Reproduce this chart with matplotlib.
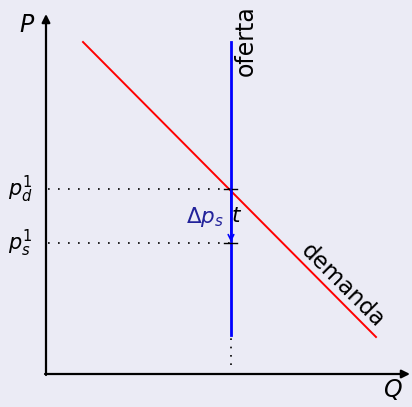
import matplotlib.pyplot as plt

plt.rcParams["mathtext.fontset"] = "dejavusans"

# coordinates in chart units (origin at axes corner)
demand_q = [37, 330]
demand_p = [332, 37]
supply_q = 185
supply_p = [39, 332]
supply_dotted_p = [9, 39]
p_d = 185
p_s = 131
q_max = 364
p_max = 360

bg = "#EBEBF5"
fig = plt.figure(figsize=(4.12, 4.07), dpi=100, facecolor=bg)
ax = fig.add_axes([0, 0, 1, 1])
ax.set_facecolor(bg)
ax.set_xlim(-46, 366)
ax.set_ylim(-33, 374)
ax.axis("off")

# axes arrows
ax.annotate("", xy=(q_max, 0), xytext=(-1, 0),
            arrowprops=dict(arrowstyle="-|>", color="black", lw=1.6,
                            mutation_scale=12, shrinkA=0, shrinkB=0))
ax.annotate("", xy=(0, p_max), xytext=(0, -1),
            arrowprops=dict(arrowstyle="-|>", color="black", lw=1.6,
                            mutation_scale=12, shrinkA=0, shrinkB=0))
ax.text(-19, p_max - 11, "$P$", fontsize=17, ha="center", va="center")
ax.text(347, -16, "$Q$", fontsize=17, ha="center", va="center")

# demand
ax.plot(demand_q, demand_p, color="red", lw=1.4)
ax.text(297, 88, "demanda", fontsize=16.5, rotation=-45, rotation_mode="anchor",
        ha="center", va="center", transform_rotates_text=True)

# supply
ax.plot([supply_q, supply_q], supply_p, color="blue", lw=2)
ax.plot([supply_q, supply_q], supply_dotted_p, color="black", lw=1.2, ls=(0, (1, 4)))
ax.text(supply_q + 15, 333, "oferta", fontsize=17, rotation=90, ha="center", va="center")

# price levels
ax.plot([2, supply_q], [p_d, p_d], color="black", lw=1.2, ls=(0, (1, 5)))
ax.plot([2, supply_q], [p_s, p_s], color="black", lw=1.2, ls=(0, (1, 5)))
ax.plot([supply_q - 7, supply_q + 6], [p_d, p_d], color="black", lw=1)
ax.plot([supply_q - 7, supply_q + 6], [p_s, p_s], color="black", lw=1)
ax.annotate("", xy=(supply_q, p_s + 1), xytext=(supply_q, p_d),
            arrowprops=dict(arrowstyle="->", color="blue", lw=1.2,
                            mutation_scale=10, shrinkA=0, shrinkB=0))
ax.text(-26, p_d, "$p_d^1$", fontsize=15, ha="center", va="center")
ax.text(-26, p_s, "$p_s^1$", fontsize=15, ha="center", va="center")
ax.text(159, 157, r"$\Delta p_s$", fontsize=15.5, color="#22229a",
        ha="center", va="center")
ax.text(supply_q + 6, 158, "$t$", fontsize=15.5, ha="center", va="center")

fig.savefig("out.png", dpi=100, facecolor=bg)
